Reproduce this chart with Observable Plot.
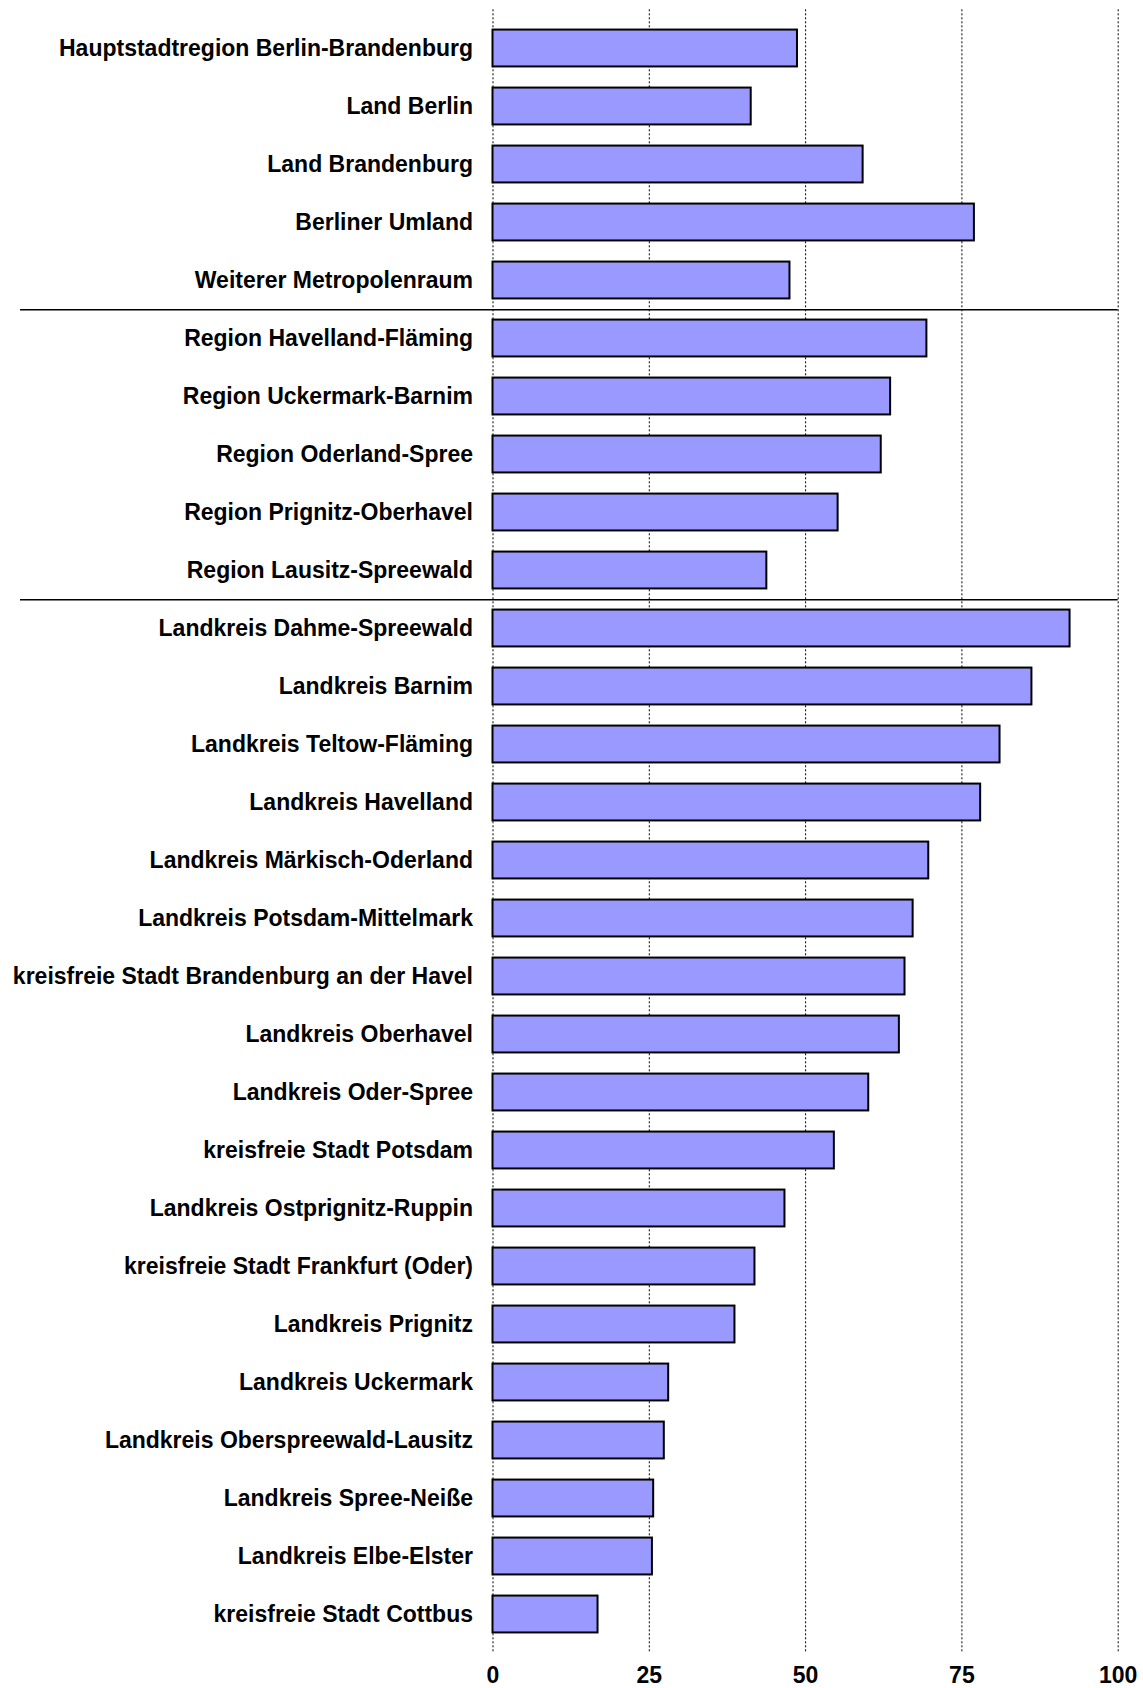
<!DOCTYPE html>
<html>
<head>
<meta charset="utf-8">
<script src="https://cdn.jsdelivr.net/npm/d3@7"></script>
<script src="https://cdn.jsdelivr.net/npm/@observablehq/plot@0.6"></script>
<style>
  html, body { margin: 0; padding: 0; background: #fff; overflow: hidden; }
</style>
</head>
<body>
<div id="chart"></div>
<script>
const names = [
  "Hauptstadtregion Berlin-Brandenburg",
  "Land Berlin",
  "Land Brandenburg",
  "Berliner Umland",
  "Weiterer Metropolenraum",
  "Region Havelland-Fläming",
  "Region Uckermark-Barnim",
  "Region Oderland-Spree",
  "Region Prignitz-Oberhavel",
  "Region Lausitz-Spreewald",
  "Landkreis Dahme-Spreewald",
  "Landkreis Barnim",
  "Landkreis Teltow-Fläming",
  "Landkreis Havelland",
  "Landkreis Märkisch-Oderland",
  "Landkreis Potsdam-Mittelmark",
  "kreisfreie Stadt Brandenburg an der Havel",
  "Landkreis Oberhavel",
  "Landkreis Oder-Spree",
  "kreisfreie Stadt Potsdam",
  "Landkreis Ostprignitz-Ruppin",
  "kreisfreie Stadt Frankfurt (Oder)",
  "Landkreis Prignitz",
  "Landkreis Uckermark",
  "Landkreis Oberspreewald-Lausitz",
  "Landkreis Spree-Neiße",
  "Landkreis Elbe-Elster",
  "kreisfreie Stadt Cottbus"
];
const values = [
  48.7, 41.3, 59.2, 77.0, 47.5,
  69.4, 63.6, 62.1, 55.2, 43.8,
  92.3, 86.2, 81.1, 78.0, 69.7, 67.2, 65.9, 65.0, 60.1, 54.6,
  46.7, 41.9, 38.7, 28.1, 27.4, 25.7, 25.5, 16.8
];
const xTicks = [0, 25, 50, 75, 100];
const groupEnds = ["Weiterer Metropolenraum", "Region Lausitz-Spreewald"];

const data = names.map((name, i) => ({name, value: values[i]}));

const width = 1143, height = 1688;
const marginLeft = 492.5, marginRight = 25.3, marginTop = 9.3, marginBottom = 36;
const step = (height - marginTop - marginBottom) / names.length;
const barInset = step * 0.18;

const chart = Plot.plot({
  width, height, marginLeft, marginRight, marginTop, marginBottom,
  style: {fontFamily: "'Liberation Sans', Arial, sans-serif", fontSize: "23px", fontWeight: "bold", color: "#000", background: "#fff"},
  x: {domain: [0, 100], ticks: xTicks, tickSize: 0, tickPadding: 14, label: null, tickFormat: d => String(d)},
  y: {domain: names, padding: 0, tickSize: 0, tickPadding: 20, label: null},
  marks: [
    Plot.ruleX(xTicks, {stroke: "#000", strokeWidth: 1, strokeDasharray: "2,2"}),
    Plot.barX(data, {x: "value", y: "name", fill: "#9999ff", stroke: "#000", strokeWidth: 2, insetTop: barInset, insetBottom: barInset}),
    Plot.ruleY(groupEnds, {y: d => d, dy: step / 2, stroke: "#000", strokeWidth: 1.5, insetLeft: -(marginLeft - 20)})
  ]
});
document.getElementById("chart").appendChild(chart);
</script>
</body>
</html>
